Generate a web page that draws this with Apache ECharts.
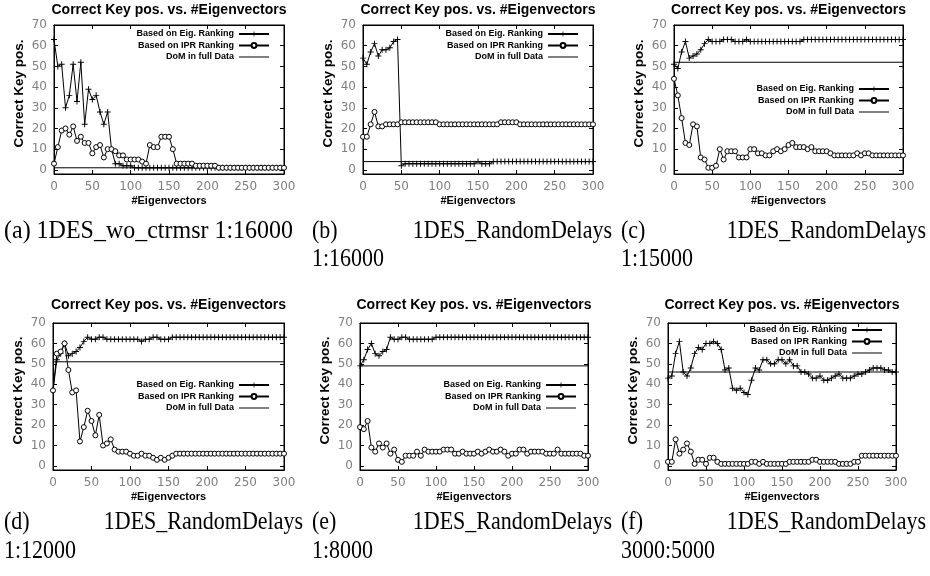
<!DOCTYPE html>
<html>
<head>
<meta charset="utf-8">
<script src="https://cdn.jsdelivr.net/npm/echarts@6/dist/echarts.min.js"></script>
<style>
html,body{margin:0;padding:0;background:#fff;}
#chart{width:930px;height:576px;}
</style>
</head>
<body>
<div id="chart"></div>
<script>
// ---------- data ----------
const xValues = [0,5,10,15,20,25,30,35,40,45,50,55,60,65,70,75,80,85,90,95,100,105,110,115,120,125,130,135,140,145,150,155,160,165,170,175,180,185,190,195,200,205,210,215,220,225,230,235,240,245,250,255,260,265,270,275,280,285,290,295,300];
const xTicks = [0,50,100,150,200,250,300];
const yTicks = [0,10,20,30,40,50,60,70];

const seriesNames = ['Based on Eig. Ranking','Based on IPR Ranking','DoM in full Data'];
const titleText = 'Correct Key pos. vs. #Eigenvectors';
const xName = '#Eigenvectors';
const yName = 'Correct Key pos.';

// (a) 1DES_wo_ctrmsr 1:16000
const eigA = [63,50,51,30,36,51,33,52,22,39,34,36,28,22,28,10,3,3,2,2,2,1,1,1,1,1,1,1,1,1,1,1,1,1,1,1,1,1,1,1,1,1,1,1,1,1,1,1,1,1,1,1,1,1,1,1,1,1,1,1,1];
const iprA = [3,11,19,20,17,21,14,16,13,13,8,11,12,6,10,10,9,7,7,5,5,5,5,4,3,12,11,11,16,16,16,10,3,3,3,3,3,2,2,2,2,2,2,1,1,1,1,1,1,1,1,1,1,1,1,1,1,1,1,1,1];
const domA = 1;
// (b) 1DES_RandomDelays 1:16000
const eigB = [54,51,57,61,55,58,58,59,62,63,2,3,3,3,3,3,3,3,3,3,3,3,3,3,3,3,3,3,3,3,4,3,3,3,4,4,4,4,4,4,4,4,4,4,4,4,4,4,4,4,4,4,4,4,4,4,4,4,4,4,4];
const iprB = [16,16,22,28,21,21,22,22,22,22,23,23,23,23,23,23,23,23,23,23,22,22,22,22,22,22,22,22,22,22,22,22,22,22,22,22,23,23,23,23,23,22,22,22,22,22,22,22,22,22,22,22,22,22,22,22,22,22,22,22,22];
const domB = 4;
// (c) 1DES_RandomDelays 1:15000
const eigC = [51,49,57,62,54,55,56,58,61,63,62,62,62,63,63,63,62,62,62,63,62,62,62,62,62,62,62,62,62,62,62,62,62,62,63,63,63,63,63,63,63,63,63,63,63,63,63,63,63,63,63,63,63,63,63,63,63,63,63,63,63];
const iprC = [44,36,25,13,12,22,21,6,5,1,1,2,10,5,9,9,9,6,6,6,10,10,8,8,7,7,9,10,9,10,12,13,11,11,11,10,11,9,9,9,9,8,7,7,7,7,7,7,8,7,8,8,7,7,7,7,7,7,7,7,7];
const domC = 52;
// (d) 1DES_RandomDelays 1:12000
const eigD = [37,52,55,60,54,55,56,58,61,63,62,62,63,63,62,62,62,62,62,62,62,62,62,61,62,62,63,63,62,62,62,63,63,63,63,63,63,63,63,63,63,63,63,63,63,63,63,63,63,63,63,63,63,63,63,63,63,63,63,63,63];
const iprD = [37,55,56,60,47,36,37,12,19,27,22,15,25,10,11,13,8,7,7,7,6,5,5,6,5,5,4,3,4,3,4,5,6,6,6,6,6,6,6,6,6,6,6,6,6,6,6,6,6,6,6,6,6,6,6,6,6,6,6,6,6];
const domD = 51;
// (e) 1DES_RandomDelays 1:8000
const eigE = [49,52,57,60,55,54,56,57,63,62,62,63,63,62,62,62,62,62,62,62,63,63,63,63,63,63,63,63,63,63,63,63,63,63,63,63,63,63,63,63,63,63,63,63,63,63,63,63,63,63,63,63,63,63,63,63,63,63,63,63,63];
const iprE = [19,18,22,9,7,11,9,11,6,8,3,2,5,5,5,7,5,8,7,7,7,7,8,8,8,6,6,7,6,6,6,7,6,7,8,7,7,8,7,5,6,6,8,8,6,7,7,7,7,6,6,6,8,6,6,6,6,6,6,5,5];
const domE = 49;
// (f) 1DES_RandomDelays 3000:5000
const eigF = [43,44,55,61,46,44,48,55,58,57,60,60,61,60,57,47,48,38,37,38,36,35,42,48,47,52,52,50,50,52,52,50,52,49,49,46,46,45,43,43,44,42,42,43,44,45,43,43,43,44,45,45,46,47,48,48,48,47,47,46,46];
const iprF = [2,2,13,6,8,11,7,1,3,3,1,4,4,2,1,1,1,1,1,1,1,1,2,2,1,2,1,1,1,1,1,1,2,2,2,2,2,2,3,3,2,2,2,2,2,1,1,1,1,2,2,5,5,5,5,5,5,5,5,5,5];
const domF = 46;

const eigSets = [eigA, eigB, eigC, eigD, eigE, eigF];
const iprSets = [iprA, iprB, iprC, iprD, iprE, iprF];
const domSets = [domA, domB, domC, domD, domE, domF];

const captionLabels = ['(a)','(b)','(c)','(d)','(e)','(f)'];
const captionNames = ['1DES_wo_ctrmsr','1DES_RandomDelays','1DES_RandomDelays','1DES_RandomDelays','1DES_RandomDelays','1DES_RandomDelays'];
const captionRatios = ['1:16000','1:16000','1:15000','1:12000','1:8000','3000:5000'];

// ---------- layout (pixels) ----------
const grids = [
  {left:54, top:25, width:230, height:149},
  {left:363, top:25, width:230, height:149},
  {left:674, top:25, width:229, height:149},
  {left:53, top:323, width:231, height:147},
  {left:360, top:323, width:228, height:147},
  {left:668, top:323, width:228, height:147}
];
const legendPos = [
  {right:660, top:29},
  {right:351, top:29},
  {right:40, top:84},
  {right:660, top:380},
  {right:353, top:380},
  {right:47, top:325}
];

const chart = echarts.init(document.getElementById('chart'), null, {renderer:'canvas'});

const plusSymbol = 'path://M0,4.2H10V5.8H0Z M4.2,0H5.8V10H4.2Z';
const lineIcon = 'path://M0,0L0,0M0,2.5H30V3.5H0ZM0,6L0,6';
const sans = 'Liberation Sans';

const option = {
  animation:false,
  backgroundColor:'#fff',
  title:[], grid:[], xAxis:[], yAxis:[], series:[], legend:[], graphic:[]
};

grids.forEach((g,i)=>{
  option.grid.push({left:g.left, top:g.top, width:g.width, height:g.height, show:true, borderColor:'#000', borderWidth:1, containLabel:false});
  option.title.push({
    text:titleText, left:g.left + g.width/2, top:(i<3?1:296), textAlign:'center', padding:[2,0,0,0],
    textStyle:{fontFamily:sans, fontWeight:'bold', fontSize:14, color:'#000'}
  });
  const tickCommon = {inside:true, length:4, lineStyle:{color:'#000', width:1}};
  option.xAxis.push({
    gridIndex:i, type:'value', min:xTicks[0], max:xTicks[xTicks.length-1], interval:50,
    axisLine:{show:true, onZero:false, lineStyle:{color:'#000', width:1}},
    axisTick:tickCommon,
    axisLabel:{color:'#808080', fontFamily:'DejaVu Sans', fontSize:12, margin:7},
    splitLine:{show:false},
    name:xName, nameLocation:'middle', nameGap:21,
    nameTextStyle:{fontFamily:sans, fontWeight:'bold', fontSize:11, color:'#000'}
  });
  option.xAxis.push({
    gridIndex:i, type:'value', position:'top', min:xTicks[0], max:xTicks[xTicks.length-1], interval:50,
    axisLine:{show:true, onZero:false, lineStyle:{color:'#000', width:1}},
    axisTick:tickCommon, axisLabel:{show:false}, splitLine:{show:false}
  });
  option.yAxis.push({
    gridIndex:i, type:'value', min:-2, max:70,
    axisLine:{show:true, onZero:false, lineStyle:{color:'#000', width:1}},
    axisTick:Object.assign({customValues:yTicks}, tickCommon),
    axisLabel:{customValues:yTicks, color:'#808080', fontFamily:'DejaVu Sans', fontSize:12, margin:7},
    splitLine:{show:false},
    name:yName, nameLocation:'middle', nameGap:28,
    nameTextStyle:{fontFamily:sans, fontWeight:'bold', fontSize:13.5, color:'#000', padding:[0,0,0,12]}
  });
  option.yAxis.push({
    gridIndex:i, type:'value', position:'right', min:-2, max:70,
    axisLine:{show:true, onZero:false, lineStyle:{color:'#000', width:1}},
    axisTick:Object.assign({customValues:yTicks}, tickCommon),
    axisLabel:{show:false}, splitLine:{show:false}
  });
  const xi = i*2, yi = i*2;
  option.series.push({
    type:'line', name:seriesNames[0], xAxisIndex:xi, yAxisIndex:yi,
    data:xValues.map((x,j)=>[x, eigSets[i][j]]),
    symbol:plusSymbol, symbolSize:6, showAllSymbol:true,
    lineStyle:{color:'#000', width:1}, itemStyle:{color:'#000'},
    emphasis:{disabled:true}, z:3
  });
  option.series.push({
    type:'line', name:seriesNames[1], xAxisIndex:xi, yAxisIndex:yi,
    data:xValues.map((x,j)=>[x, iprSets[i][j]]),
    symbol:'circle', symbolSize:5, showAllSymbol:true,
    lineStyle:{color:'#000', width:1}, itemStyle:{color:'#fff', borderColor:'#000', borderWidth:1},
    emphasis:{disabled:true}, z:3
  });
  option.series.push({
    type:'line', name:seriesNames[2], xAxisIndex:xi, yAxisIndex:yi,
    data:[[xValues[0], domSets[i]],[xValues[xValues.length-1], domSets[i]]],
    symbol:'none', lineStyle:{color:'#000', width:1}, itemStyle:{color:'#000'},
    emphasis:{disabled:true}, z:2
  });
  option.legend.push({
    orient:'vertical', align:'right', right:legendPos[i].right, top:legendPos[i].top,
    padding:0, itemGap:1.5, itemWidth:30, itemHeight:6, selectedMode:false,
    textStyle:{fontFamily:sans, fontWeight:'bold', fontSize:9, color:'#000', lineHeight:10},
    data:[{name:seriesNames[0]},{name:seriesNames[1]},{name:seriesNames[2], icon:lineIcon}]
  });
});

// captions (LaTeX-style serif, slightly tall)
const capFont = '22px "Liberation Serif"';
const capScaleY = 1.12;
const capRows = [232, 523];
const capSecond = [260, 552];
const capLeft = [4, 312, 621];
const capRight = [303, 612, 926];
function capText(txt, x, y, align, sx){
  return {type:'text', x:x, y:y, scaleX:sx||1, scaleY:capScaleY, originX:0, originY:0,
    style:{text:txt, font:capFont, fill:'#000', textAlign:align, textVerticalAlign:'middle'}};
}
captionLabels.forEach((lab,i)=>{
  const row = i<3 ? 0 : 1;
  const col = i%3;
  if (i===0) {
    option.graphic.push(capText(lab+' '+captionNames[i]+' '+captionRatios[i], capLeft[col], capRows[row], 'left', 1.09));
  } else {
    option.graphic.push(capText(lab, capLeft[col], capRows[row], 'left'));
    option.graphic.push(capText(captionNames[i], capRight[col], capRows[row], 'right'));
    option.graphic.push(capText(captionRatios[i], capLeft[col], capSecond[row], 'left'));
  }
});

chart.setOption(option);
</script>
</body>
</html>
